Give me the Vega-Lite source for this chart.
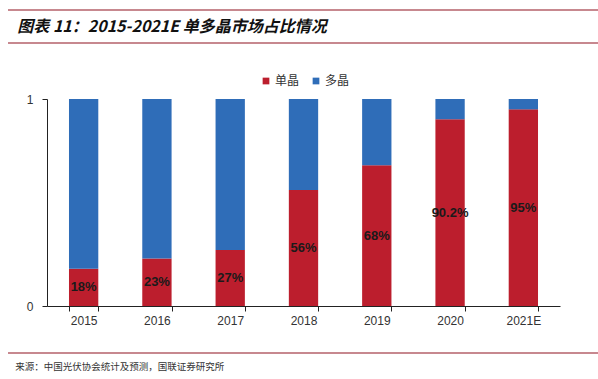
{
  "$schema": "https://vega.github.io/schema/vega-lite/v6.json",
  "width": 513,
  "height": 207,
  "autosize": {"type": "none"},
  "padding": {"left": 47, "top": 99, "right": 38, "bottom": 73},
  "background": "white",
  "config": {"view": {"stroke": null}, "font": "Noto Sans CJK SC"},
  "data": {
    "values": [
      {"year": "2015", "type": "单晶", "share": 0.18},
      {"year": "2015", "type": "多晶", "share": 0.82},
      {"year": "2016", "type": "单晶", "share": 0.23},
      {"year": "2016", "type": "多晶", "share": 0.77},
      {"year": "2017", "type": "单晶", "share": 0.27},
      {"year": "2017", "type": "多晶", "share": 0.73},
      {"year": "2018", "type": "单晶", "share": 0.56},
      {"year": "2018", "type": "多晶", "share": 0.44},
      {"year": "2019", "type": "单晶", "share": 0.68},
      {"year": "2019", "type": "多晶", "share": 0.32},
      {"year": "2020", "type": "单晶", "share": 0.902},
      {"year": "2020", "type": "多晶", "share": 0.098},
      {"year": "2021E", "type": "单晶", "share": 0.95},
      {"year": "2021E", "type": "多晶", "share": 0.05}
    ]
  },
  "layer": [
    {
      "layer": [
        {
          "mark": {"type": "bar"},
          "encoding": {
            "x": {
              "field": "year", "type": "nominal", "sort": null,
              "scale": {"paddingInner": 0.6, "paddingOuter": 0.3},
              "axis": {
                "title": null, "labelAngle": 0, "labelFont": "Liberation Sans", "labelFontSize": 12,
                "labelColor": "#333", "tickBand": "extent", "tickSize": 5, "tickColor": "#222",
                "domainColor": "#222", "labelPadding": 4
              }
            },
            "y": {
              "field": "share", "type": "quantitative", "stack": "zero",
              "scale": {"domain": [0, 1]},
              "axis": {
                "title": null, "values": [0, 1], "format": "d", "grid": false, "labelFont": "Liberation Sans",
                "labelFontSize": 12, "labelColor": "#333", "tickSize": 5, "tickColor": "#222",
                "domainColor": "#222", "labelPadding": 9
              }
            },
            "color": {
              "field": "type", "type": "nominal",
              "scale": {"domain": ["单晶", "多晶"], "range": ["#BC1E2D", "#2F6DB8"]},
              "legend": {
                "title": null, "orient": "none", "legendX": 213, "legendY": -24, "direction": "horizontal",
                "symbolType": "square", "symbolSize": 45, "symbolStrokeWidth": 0, "labelFontSize": 12,
                "labelColor": "#333", "columnPadding": 10, "labelOffset": 3
              }
            },
            "order": {"field": "type", "sort": "ascending"}
          }
        },
        {
          "transform": [{"filter": "datum.type === '单晶'"}],
          "mark": {"type": "text", "font": "Liberation Sans", "fontWeight": "bold", "fontSize": 13, "color": "#1a1a1a", "baseline": "middle"},
          "encoding": {
            "x": {"field": "year", "type": "nominal", "sort": null},
            "y": {"field": "share", "type": "quantitative", "scale": {"domain": [0, 2]}, "axis": null},
            "text": {"field": "share", "format": ".1~%"}
          }
        }
      ],
      "resolve": {"scale": {"y": "independent"}}
    },
    {
      "data": {"values": [{}]},
      "layer": [
        {
          "mark": {"type": "rule", "color": "#B5606A", "strokeWidth": 1.5},
          "encoding": {
            "x": {"datum": -0.076, "type": "quantitative", "scale": {"domain": [0, 1]}, "axis": null},
            "x2": {"datum": 1.08},
            "y": {"datum": 1.43, "type": "quantitative", "scale": {"domain": [0, 1]}, "axis": null}
          }
        },
        {
          "mark": {"type": "rule", "color": "#B5606A", "strokeWidth": 1.5},
          "encoding": {
            "x": {"datum": -0.076, "type": "quantitative"},
            "x2": {"datum": 1.08},
            "y": {"datum": 1.27, "type": "quantitative"}
          }
        },
        {
          "mark": {"type": "rule", "color": "#B5606A", "strokeWidth": 1.5},
          "encoding": {
            "x": {"datum": -0.076, "type": "quantitative"},
            "x2": {"datum": 1.08},
            "y": {"datum": -0.227, "type": "quantitative"}
          }
        },
        {
          "mark": {"type": "text", "align": "left", "baseline": "middle", "fontSize": 16, "fontWeight": "bold", "fontStyle": "italic", "color": "#111", "text": "图表 11：2015-2021E 单多晶市场占比情况"},
          "encoding": {
            "x": {"datum": -0.058, "type": "quantitative"},
            "y": {"datum": 1.348, "type": "quantitative"}
          }
        },
        {
          "mark": {"type": "text", "align": "left", "baseline": "middle", "fontSize": 9.5, "color": "#333", "text": "来源：中国光伏协会统计及预测，国联证券研究所"},
          "encoding": {
            "x": {"datum": -0.062, "type": "quantitative"},
            "y": {"datum": -0.295, "type": "quantitative"}
          }
        }
      ]
    }
  ],
  "resolve": {"scale": {"x": "independent", "y": "independent"}}
}
